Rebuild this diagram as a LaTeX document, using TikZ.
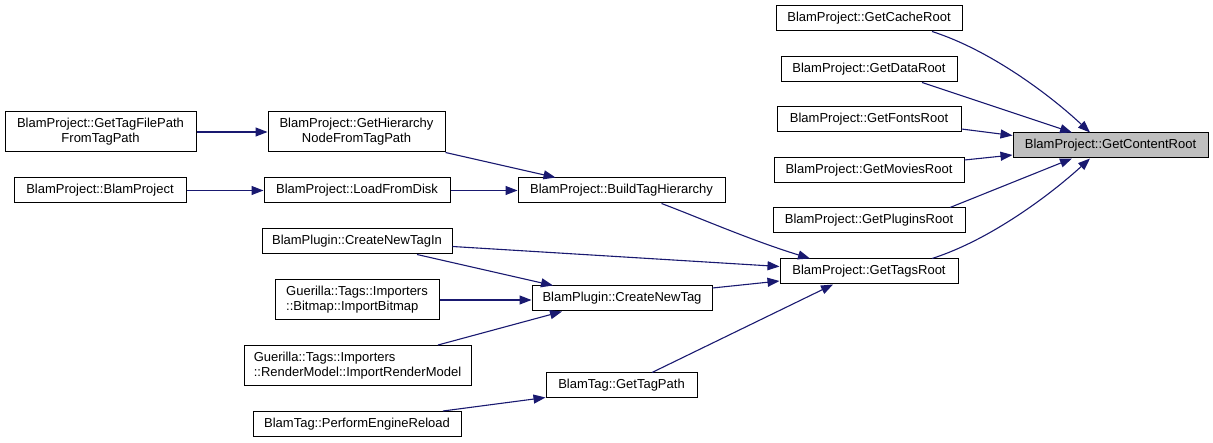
\documentclass[tikz,border=0pt]{standalone}
\usepackage{fontspec}
\setmainfont{Liberation Sans}
\usetikzlibrary{arrows.meta}
\definecolor{edgec}{HTML}{191970}
\definecolor{hl}{HTML}{BFBFBF}
\begin{document}
\begin{tikzpicture}[x=1pt,y=-1pt,
  fn/.style={draw=black,line width=1pt,fill=white,inner sep=0pt,minimum height=25pt,
    font=\fontsize{13}{15}\selectfont,align=center},
  fnl/.style={fn,align=left},
  call/.style={draw=edgec,line width=1.1pt,-{Triangle[length=12pt,width=9pt]}}]
\useasboundingbox (0,0) rectangle (1213,443);
% column right
\node[fn,minimum width=195pt,fill=hl] (content) at (1110.5,145.5) {BlamProject::GetContentRoot};
\node[fn,minimum width=186pt] (cache) at (869,18.5) {BlamProject::GetCacheRoot};
\node[fn,minimum width=176pt] (data) at (869,69.5) {BlamProject::GetDataRoot};
\node[fn,minimum width=184pt] (fonts) at (869,119.5) {BlamProject::GetFontsRoot};
\node[fn,minimum width=190pt] (movies) at (869,170.5) {BlamProject::GetMoviesRoot};
\node[fn,minimum width=192pt] (plugins) at (869,220.5) {BlamProject::GetPluginsRoot};
\node[fn,minimum width=178pt] (tags) at (869,271.5) {BlamProject::GetTagsRoot};
% middle column
\node[fn,minimum width=207pt] (build) at (621.5,190.5) {BlamProject::BuildTagHierarchy};
\node[fn,minimum width=180pt] (cnt) at (622,298.5) {BlamPlugin::CreateNewTag};
\node[fn,minimum width=151pt] (tagpath) at (621.5,385.5) {BlamTag::GetTagPath};
% second column
\node[fn,minimum width=177pt,minimum height=40pt] (hier) at (356.5,132) {BlamProject::GetHierarchy\\NodeFromTagPath};
\node[fn,minimum width=186pt] (load) at (357,190.5) {BlamProject::LoadFromDisk};
\node[fn,minimum width=190pt] (cnti) at (357,241.5) {BlamPlugin::CreateNewTagIn};
\node[fnl,minimum width=164pt,minimum height=40pt] (bitmap) at (357,300) {Guerilla::Tags::Importers\\::Bitmap::ImportBitmap};
\node[fnl,minimum width=227pt,minimum height=40pt] (render) at (357.5,365.5) {Guerilla::Tags::Importers\\::RenderModel::ImportRenderModel};
\node[fn,minimum width=208pt] (reload) at (357,424) {BlamTag::PerformEngineReload};
% first column
\node[fn,minimum width=191pt,minimum height=40pt] (tagfile) at (100.5,132) {BlamProject::GetTagFilePath\\FromTagPath};
\node[fn,minimum width=172pt] (bp) at (100,190.5) {BlamProject::BlamProject};
% edges
\draw[call] (tagfile.east) -- (hier.west);
\draw[call] (hier.south east) -- ([xshift=-66pt]build.north);
\draw[call] (bp.east) -- (load.west);
\draw[call] (load.east) -- (build.west);
\draw[call] ([xshift=40pt]build.south) .. controls (700,218) and (750,240) .. ([xshift=-59pt]tags.north);
\draw[call] ([yshift=-5pt]cnti.east) -- ([yshift=5pt]tags.west);
\draw[call] ([xshift=60pt]cnti.south) -- ([xshift=-69pt]cnt.north);
\draw[call] (bitmap.east) -- (bitmap.east -| cnt.west);
\draw[call] ([xshift=80.5pt]render.north) -- ([xshift=-60pt]cnt.south);
\draw[call] ([yshift=10.5pt]cnt.east) -- ([yshift=-9.5pt]tags.west);
\draw[call] ([xshift=30.5pt]tagpath.north) -- ([xshift=-36pt]tags.south);
\draw[call] ([xshift=86pt]reload.north) -- ([yshift=1pt]tagpath.south west);
\draw[call] ([xshift=63pt]cache.south) .. controls (990,50) and (1050,95) .. ([xshift=-20.5pt]content.north);
\draw[call] ([xshift=53pt]data.south) -- ([xshift=-38.5pt]content.north);
\draw[call] ([yshift=-9.5pt]fonts.east) -- ([yshift=10pt]content.west);
\draw[call] ([yshift=10.5pt]movies.east) -- ([yshift=-9.5pt]content.west);
\draw[call] ([xshift=81pt]plugins.north) -- ([xshift=-38.5pt]content.south);
\draw[call] ([xshift=63pt]tags.north) .. controls (990,240) and (1050,195) .. ([xshift=-20.5pt]content.south);
\end{tikzpicture}
\end{document}
